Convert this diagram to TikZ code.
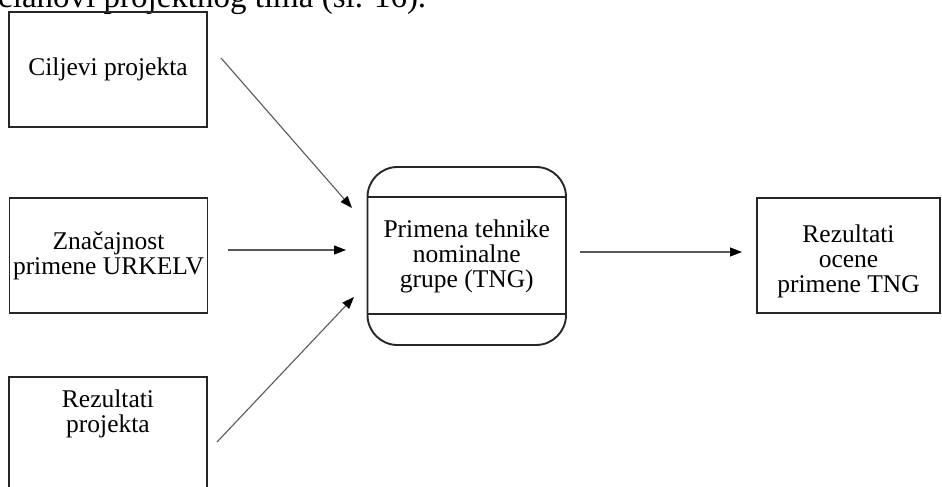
\documentclass[tikz,border=0pt]{standalone}
\usepackage{fontspec}
\setmainfont{Liberation Serif}
\usetikzlibrary{arrows.meta}
\begin{document}
\begin{tikzpicture}[x=1pt,y=-1pt,
  boxline/.style={draw=black!85,line width=1.9pt},
  box/.style={boxline,minimum width=#1,minimum height=115pt,inner sep=0pt,
    align=center,font=\fontsize{25.5}{25}\selectfont},
  box/.default=198pt,
  txt/.style={inner sep=0pt,align=center,font=\fontsize{25.5}{25}\selectfont},
  conn/.style={draw=black!65,line width=1.1pt,
    -{Triangle[length=12pt,width=9pt,fill=black,color=black]}}]
\useasboundingbox (0,0) rectangle (942,487);
\clip (0,0) rectangle (942,487);

% cut-off running text at the top
\node[anchor=base west,inner sep=0pt,font=\fontsize{33}{35}\selectfont] (top) at (-2,7.5)
  {članovi projektnog tima (sl. 16).};

% input boxes
\node[box] (b1) at (108,69.5) {Ciljevi projekta};
\node[box] (b2) at (108.5,255.5) {Značajnost\\primene URKELV};
\node[box] (b3) at (108,434.5) {};
\node[txt] (b3t) at (108,413.5) {Rezultati\\projekta};

% central process box
\node[box=198.5pt,minimum height=178pt,rounded corners=30pt] (c) at (466.75,256)
  {Primena tehnike\\nominalne\\grupe (TNG)};
\draw[boxline] ([yshift=-31pt]c.north west) -- ([yshift=-31pt]c.north east);
\draw[boxline] ([yshift=32pt]c.south west) -- ([yshift=32pt]c.south east);

% output box
\node[box=183pt] (r) at (848.5,255.5) {};
\node[txt] (rt) at (848.5,261.5) {Rezultati\\ocene\\primene TNG};

% connector end points
\coordinate (a1s) at (221,58);
\coordinate (a1e) at (352,208);
\coordinate (a2s) at (228,250);
\coordinate (a2e) at (346,250);
\coordinate (a3s) at (217,442);
\coordinate (a3e) at (354,297);
\coordinate (a4s) at (580,252);
\coordinate (a4e) at (742,252);

\draw[conn] (a1s) -- (a1e);
\draw[conn] (a2s) -- (a2e);
\draw[conn] (a3s) -- (a3e);
\draw[conn] (a4s) -- (a4e);
\end{tikzpicture}
\end{document}
